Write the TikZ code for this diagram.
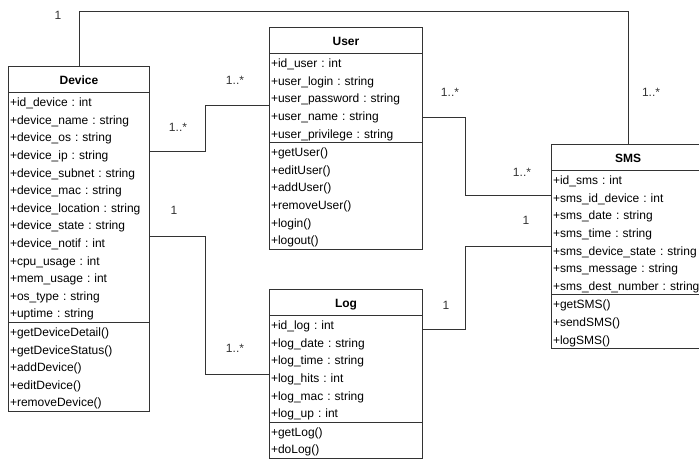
\documentclass[tikz,border=0pt]{standalone}
\usepackage{fontspec}
\setmainfont{Liberation Sans}
\usetikzlibrary{shapes.multipart}
\definecolor{UmlLine}{HTML}{333333}
\newcommand{\umlrow}{\rule[-4pt]{0pt}{17.6pt}}
\newcommand{\umlhead}[1]{\makebox[\hsize]{\rule[-8pt]{0pt}{25pt}\textbf{#1}}}
\frenchspacing

\begin{document}
\begin{tikzpicture}[x=1pt, y=1pt,
    cls/.style={
      rectangle split, rectangle split parts=3, draw=UmlLine, fill=white,
      line width=1pt, text width=#1, align=left, inner xsep=1.5pt, inner ysep=0pt,
      anchor=north west, font=\fontsize{12}{17.6}\selectfont
    },
    link/.style={draw=UmlLine, line width=0.9pt},
    mult/.style={font=\fontsize{12}{14}\selectfont, text=UmlLine}
  ]
  \useasboundingbox (0,0) rectangle (699,-459);

  % classes
  \node[cls=138pt] (device) at (8,-66) {\umlhead{Device}
    \nodepart{two}\umlrow+id\_device : int\\
    \umlrow+device\_name : string\\
    \umlrow+device\_os : string\\
    \umlrow+device\_ip : string\\
    \umlrow+device\_subnet : string\\
    \umlrow+device\_mac : string\\
    \umlrow+device\_location : string\\
    \umlrow+device\_state : string\\
    \umlrow+device\_notif : int\\
    \umlrow+cpu\_usage : int\\
    \umlrow+mem\_usage : int\\
    \umlrow+os\_type : string\\
    \umlrow+uptime : string
    \nodepart{three}\umlrow+getDeviceDetail()\\
    \umlrow+getDeviceStatus()\\
    \umlrow+addDevice()\\
    \umlrow+editDevice()\\
    \umlrow+removeDevice()};

  \node[cls=150pt] (user) at (269,-27) {\umlhead{User}
    \nodepart{two}\umlrow+id\_user : int\\
    \umlrow+user\_login : string\\
    \umlrow+user\_password : string\\
    \umlrow+user\_name : string\\
    \umlrow+user\_privilege : string
    \nodepart{three}\umlrow+getUser()\\
    \umlrow+editUser()\\
    \umlrow+addUser()\\
    \umlrow+removeUser()\\
    \umlrow+login()\\
    \umlrow+logout()};

  \node[cls=150pt] (log) at (269,-289) {\umlhead{Log}
    \nodepart{two}\umlrow+id\_log : int\\
    \umlrow+log\_date : string\\
    \umlrow+log\_time : string\\
    \umlrow+log\_hits : int\\
    \umlrow+log\_mac : string\\
    \umlrow+log\_up : int
    \nodepart{three}\umlrow+getLog()\\
    \umlrow+doLog()};

  \node[cls=150pt] (sms) at (551,-144) {\umlhead{SMS}
    \nodepart{two}\umlrow+id\_sms : int\\
    \umlrow+sms\_id\_device : int\\
    \umlrow+sms\_date : string\\
    \umlrow+sms\_time : string\\
    \umlrow+sms\_device\_state : string\\
    \umlrow+sms\_message : string\\
    \umlrow+sms\_dest\_number : string
    \nodepart{three}\umlrow+getSMS()\\
    \umlrow+sendSMS()\\
    \umlrow+logSMS()};

  % associations
  \draw[link] (device.north) -- ++(0,55) -| (sms.north);
  \draw[link] ([yshift=-85]device.north east) -- ++(55,0) |- ([yshift=-78]user.north west);
  \draw[link] ([yshift=-90]user.north east) -- ++(42,0) |- ([yshift=-51]sms.north west);
  \draw[link] ([yshift=-170]device.north east) -- ++(55,0) |- ([yshift=-85]log.north west);
  \draw[link] ([yshift=-40]log.north east) -- ++(42,0) |- ([yshift=-102]sms.north west);

  % multiplicities
  \node[mult] (m1) at (58,-15) {1};
  \node[mult] (m2) at (651,-92) {1..*};
  \node[mult] (m3) at (178,-127) {1..*};
  \node[mult] (m4) at (235,-80) {1..*};
  \node[mult] (m5) at (450,-92) {1..*};
  \node[mult] (m6) at (522,-172) {1..*};
  \node[mult] (m7) at (174,-210) {1};
  \node[mult] (m8) at (235,-348) {1..*};
  \node[mult] (m9) at (446,-305) {1};
  \node[mult] (m10) at (526,-220) {1};
\end{tikzpicture}
\end{document}
